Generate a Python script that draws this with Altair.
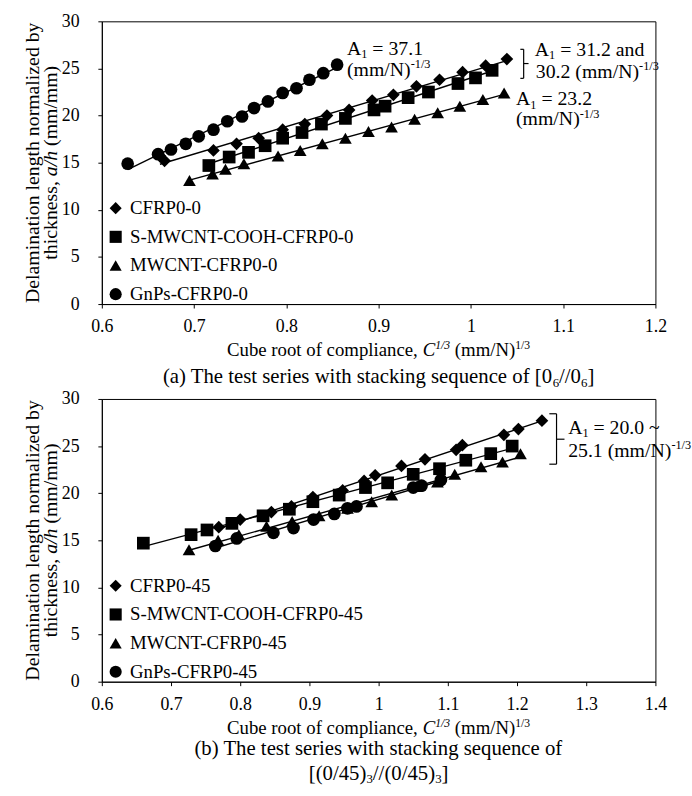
import altair as alt
import pandas as pd

FONT = "Liberation Serif"

# ---------------- data: panel (a) [0_6//0_6] ----------------
names_a = ["CFRP0-0", "S-MWCNT-COOH-CFRP0-0", "MWCNT-CFRP0-0", "GnPs-CFRP0-0"]
cfrp0_0_x = [0.663, 0.668, 0.721, 0.746, 0.770, 0.796, 0.820, 0.844, 0.868, 0.893, 0.916, 0.941, 0.966, 0.991, 1.016, 1.039]
cfrp0_0_y = [15.7, 15.2, 16.3, 17.0, 17.6, 18.5, 19.1, 20.0, 20.6, 21.6, 22.2, 23.1, 23.8, 24.6, 25.3, 26.0]
smw0_0_x = [0.716, 0.738, 0.759, 0.777, 0.796, 0.817, 0.838, 0.864, 0.895, 0.907, 0.932, 0.954, 0.986, 1.005, 1.023]
smw0_0_y = [14.7, 15.6, 16.1, 16.8, 17.6, 18.2, 19.1, 19.7, 20.6, 21.0, 21.9, 22.5, 23.4, 24.0, 24.8]
mw0_0_x = [0.695, 0.720, 0.734, 0.754, 0.791, 0.815, 0.839, 0.864, 0.889, 0.914, 0.939, 0.964, 0.988, 1.013, 1.036]
mw0_0_y = [13.1, 13.8, 14.3, 14.9, 15.7, 16.3, 17.0, 17.6, 18.3, 18.8, 19.6, 20.3, 21.0, 21.7, 22.4]
gnp0_0_x = [0.628, 0.661, 0.675, 0.691, 0.705, 0.721, 0.736, 0.752, 0.765, 0.780, 0.796, 0.811, 0.825, 0.840, 0.855]
gnp0_0_y = [14.9, 15.9, 16.4, 17.0, 17.8, 18.5, 19.4, 19.9, 20.8, 21.5, 22.4, 22.9, 23.8, 24.5, 25.4]

# ---------------- data: panel (b) [(0/45)_3//(0/45)_3] ----------------
names_b = ["CFRP0-45", "S-MWCNT-COOH-CFRP0-45", "MWCNT-CFRP0-45", "GnPs-CFRP0-45"]
cfrp0_45_x = [0.769, 0.800, 0.845, 0.874, 0.905, 0.948, 0.979, 0.995, 1.033, 1.067, 1.112, 1.121, 1.181, 1.202, 1.236]
cfrp0_45_y = [16.4, 17.2, 18.0, 18.6, 19.6, 20.3, 21.3, 21.9, 22.9, 23.6, 24.6, 25.1, 26.2, 26.8, 27.7]
smw0_45_x = [0.660, 0.729, 0.752, 0.788, 0.833, 0.871, 0.905, 0.943, 0.981, 1.013, 1.050, 1.088, 1.126, 1.162, 1.193]
smw0_45_y = [14.7, 15.6, 16.1, 16.8, 17.6, 18.3, 19.1, 19.8, 20.6, 21.1, 22.0, 22.6, 23.5, 24.2, 25.0]
mw0_45_x = [0.726, 0.768, 0.798, 0.838, 0.875, 0.914, 0.955, 0.990, 1.019, 1.055, 1.085, 1.110, 1.148, 1.179, 1.205]
mw0_45_y = [14.0, 15.0, 15.6, 16.5, 17.0, 17.6, 18.4, 19.1, 19.8, 20.7, 21.2, 22.0, 22.8, 23.3, 24.2]
gnp0_45_x = [0.764, 0.795, 0.848, 0.877, 0.906, 0.936, 0.955, 0.968, 1.050, 1.062, 1.090]
gnp0_45_y = [14.4, 15.2, 15.8, 16.3, 17.2, 17.8, 18.4, 18.6, 20.6, 20.8, 21.4]

# bracket annotations (data coordinates)
br_a_x1 = [1.0536, 1.0572, 1.0536, 1.0572]
br_a_x2 = [1.0572, 1.0572, 1.0572, 1.0625]
br_a_y1 = [27.03, 27.03, 23.95, 25.52]
br_a_y2 = [27.03, 23.95, 23.95, 25.52]
br_b_x1 = [1.2467, 1.2571, 1.2467, 1.2571]
br_b_x2 = [1.2571, 1.2571, 1.2571, 1.2686]
br_b_y1 = [28.43, 28.43, 23.08, 25.73]
br_b_y2 = [28.43, 23.08, 23.08, 25.73]

xticks_a = [0.6, 0.7, 0.8, 0.9, 1.0, 1.1, 1.2]
xticks_b = [0.6, 0.7, 0.8, 0.9, 1.0, 1.1, 1.2, 1.3, 1.4]
yticks = [0, 5, 10, 15, 20, 25, 30]

shapes = ["diamond", "square", "triangle-up", "circle"]

W_PLOT, H_PLOT = 560, 286

# ---------------- text layout helpers (Times metrics) ----------------
W = {' ': 250, '(': 333, ')': 333, ',': 250, '-': 333, '.': 250, '/': 278, ':': 278, '=': 564,
     '[': 333, ']': 333, '~': 541}
for d in '0123456789':
    W[d] = 500
W.update(dict(A=722, B=667, C=667, D=722, E=611, F=556, G=722, H=722, I=333, J=389, K=722, L=611,
              M=889, N=722, O=722, P=556, Q=722, R=667, S=556, T=611, U=722, V=722, X=722, Y=722, Z=611))
W['W'] = 944
W.update(dict(a=444, b=500, c=444, d=500, e=444, f=333, g=500, h=500, i=278, j=278, k=500, l=278,
              m=778, n=500, o=500, p=500, q=500, r=333, s=389, t=278, u=500, v=500, w=722, x=500,
              y=500, z=444))
WI = dict(W)
WI.update(dict(a=500, f=278))


def tw(s, size, italic=False):
    tab = WI if italic else W
    return sum(tab.get(c, 500) for c in s) * size / 1000.0


def run_size(st, size):
    return size * 0.62 if st in ("sub", "sup", "isup") else size


def hline(runs, size, cy, cx=None, left=None):
    ws = [tw(t, run_size(st, size), st in ("i", "isup")) for t, st in runs]
    total = sum(ws)
    pos = left if left is not None else cx - total / 2.0
    base = cy + 0.3 * size
    rows = []
    for (t, st), w in zip(runs, ws):
        s = run_size(st, size)
        lead = tw(t[: len(t) - len(t.lstrip())], s)
        dy = 0.16 * size if st == "sub" else (-0.38 * size if st in ("sup", "isup") else 0.0)
        rows.append(dict(t=t.strip(), px=pos + lead, py=base + dy, fs=s, ang=0,
                         it=st in ("i", "isup")))
        pos += w
    return rows


def vline(runs, size, cx, cy):
    ws = [tw(t, run_size(st, size), st in ("i", "isup")) for t, st in runs]
    total = sum(ws)
    pos = cy + total / 2.0
    bx = cx + 0.3 * size
    rows = []
    for (t, st), w in zip(runs, ws):
        s = run_size(st, size)
        lead = tw(t[: len(t) - len(t.lstrip())], s)
        rows.append(dict(t=t.strip(), px=bx, py=pos - lead, fs=s, ang=270,
                         it=st in ("i", "isup")))
        pos -= w
    return rows


def common_titles(xt_off):
    rows = []
    rows += vline([("Delamination length normalized by", "n")], 20, -70, 143)
    rows += vline([("thickness, ", "n"), ("a/h", "i"), (" (mm/mm)", "n")], 20, -51, 143)
    rows += hline([("Cube root of compliance, ", "n"), ("C", "i"), ("1/3", "isup"),
                   (" (mm/N)", "n"), ("1/3", "sup")], 19, H_PLOT + xt_off, cx=280)
    return rows


texts_a = common_titles(47)
texts_a += hline([("(a) The test series with stacking sequence of [0", "n"), ("6", "sub"),
                  ("//0", "n"), ("6", "sub"), ("]", "n")], 21, H_PLOT + 74, cx=280)
texts_a += hline([("A", "n"), ("1", "sub"), (" = 37.1", "n")], 20, 28, left=248)
texts_a += hline([("(mm/N)", "n"), ("-1/3", "sup")], 20, 49, left=248)
texts_a += hline([("A", "n"), ("1", "sub"), (" = 31.2 and", "n")], 20, 29, left=438)
texts_a += hline([("30.2 (mm/N)", "n"), ("-1/3", "sup")], 20, 51, left=439)
texts_a += hline([("A", "n"), ("1", "sub"), (" = 23.2", "n")], 20, 79, left=419)
texts_a += hline([("(mm/N)", "n"), ("-1/3", "sup")], 20, 99, left=419)

texts_b = common_titles(47)
texts_b += hline([("(b) The test series with stacking sequence of", "n")], 21, H_PLOT + 68, cx=280)
texts_b += hline([("[(0/45)", "n"), ("3", "sub"), ("//(0/45)", "n"), ("3", "sub"), ("]", "n")],
                 21, H_PLOT + 93, cx=280)
texts_b += hline([("A", "n"), ("1", "sub"), (" = 20.0 ~", "n")], 20, 29.7, left=471.7)
texts_b += hline([("25.1 (mm/N)", "n"), ("-1/3", "sup")], 20, 52.3, left=471.7)


def make_df(names, xs, ys):
    rows = []
    for n, xv, yv in zip(names, xs, ys):
        for a, b in zip(xv, yv):
            rows.append(dict(series=n, x=a, y=b))
    return pd.DataFrame(rows)


def panel(df, names, xdom, xticks, texts, bx1, bx2, by1, by2):
    xs = alt.Scale(domain=xdom, nice=False, zero=False)
    ys = alt.Scale(domain=[0, 30], nice=False, zero=False)
    xax = alt.Axis(values=xticks, format=".1~f", title=None, grid=False, labelPadding=10,
                   tickSize=4, labelFontSize=18, labelFont=FONT, labelFlush=False,
                   labelOverlap=False)
    yax = alt.Axis(values=yticks, title=None, grid=False, labelPadding=19, tickSize=4,
                   labelFontSize=18, labelFont=FONT, labelFlush=False, labelOverlap=False)
    lines = alt.Chart(df).transform_regression("x", "y", groupby=["series"]).mark_line(
        color="black", strokeWidth=1.4).encode(
        x=alt.X("x:Q", scale=xs, axis=xax), y=alt.Y("y:Q", scale=ys, axis=yax),
        detail="series:N")
    points = alt.Chart(df).mark_point(filled=True, opacity=1, color="black", size=165).encode(
        x=alt.X("x:Q", scale=xs, axis=xax),
        y=alt.Y("y:Q", scale=ys, axis=yax),
        shape=alt.Shape("series:N", scale=alt.Scale(domain=names, range=shapes),
                        legend=alt.Legend(title=None, orient="none", legendX=4.5, legendY=179.5,
                                          labelFont=FONT, labelFontSize=19, labelColor="black",
                                          labelLimit=0, rowPadding=9, labelOffset=5,
                                          symbolSize=150, symbolFillColor="black",
                                          symbolStrokeColor="black", symbolOpacity=1,
                                          padding=0)))
    bdf = pd.DataFrame(dict(x1=bx1, x2=bx2, y1=by1, y2=by2))
    brackets = alt.Chart(bdf).mark_rule(color="black", strokeWidth=1.2).encode(
        x=alt.X("x1:Q", scale=xs), x2="x2:Q", y=alt.Y("y1:Q", scale=ys), y2="y2:Q")
    tdf = pd.DataFrame(texts)
    enc = dict(x=alt.X("px:Q", scale=None, axis=None), y=alt.Y("py:Q", scale=None, axis=None),
               text="t:N", size=alt.Size("fs:Q", scale=None, legend=None),
               angle=alt.Angle("ang:Q", scale=None))
    tn = alt.Chart(tdf[~tdf["it"]]).mark_text(font=FONT, align="left", baseline="alphabetic",
                                              color="black").encode(**enc)
    ti = alt.Chart(tdf[tdf["it"]]).mark_text(font=FONT, align="left", baseline="alphabetic",
                                             color="black", fontStyle="italic").encode(**enc)
    return alt.layer(lines, points, brackets, tn, ti).properties(width=W_PLOT, height=H_PLOT)


df_a = make_df(names_a, [cfrp0_0_x, smw0_0_x, mw0_0_x, gnp0_0_x],
               [cfrp0_0_y, smw0_0_y, mw0_0_y, gnp0_0_y])
df_b = make_df(names_b, [cfrp0_45_x, smw0_45_x, mw0_45_x, gnp0_45_x],
               [cfrp0_45_y, smw0_45_y, mw0_45_y, gnp0_45_y])

top = panel(df_a, names_a, [0.6, 1.2], xticks_a, texts_a, br_a_x1, br_a_x2, br_a_y1, br_a_y2)
bottom = panel(df_b, names_b, [0.6, 1.4], xticks_b, texts_b, br_b_x1, br_b_x2, br_b_y1, br_b_y2)

chart = alt.vconcat(top, bottom, spacing=96, bounds="flush").resolve_scale(
    shape="independent").resolve_legend(shape="independent").properties(
    padding={"left": 22, "top": 7, "right": 0, "bottom": 0}, background="white"
).configure(font=FONT).configure_view(stroke="black", strokeWidth=1).configure_axis(
    domainColor="black", tickColor="black", labelColor="black", labelFont=FONT,
    domainWidth=1, tickWidth=1)

chart.save("out.html", embed_options={"renderer": "svg", "actions": False})
